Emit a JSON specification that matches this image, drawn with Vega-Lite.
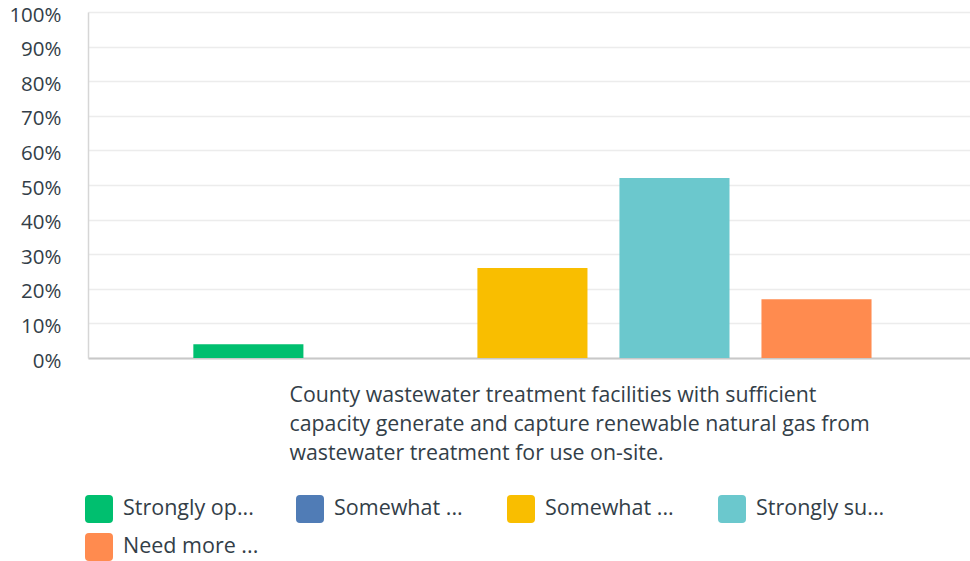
{
  "$schema": "https://vega.github.io/schema/vega-lite/v6.json",
  "autosize": "none",
  "width": 882,
  "height": 346,
  "padding": {"left": 88, "top": 12, "right": 0, "bottom": 203},
  "background": "white",
  "config": {
    "font": "Open Sans",
    "view": {"stroke": null}
  },
  "data": {
    "values": [
      {"question": "County wastewater treatment facilities with sufficient capacity generate and capture renewable natural gas from wastewater treatment for use on-site.", "answer": "Strongly oppose", "share": 0.04},
      {"question": "County wastewater treatment facilities with sufficient capacity generate and capture renewable natural gas from wastewater treatment for use on-site.", "answer": "Somewhat oppose", "share": 0.0},
      {"question": "County wastewater treatment facilities with sufficient capacity generate and capture renewable natural gas from wastewater treatment for use on-site.", "answer": "Somewhat support", "share": 0.26},
      {"question": "County wastewater treatment facilities with sufficient capacity generate and capture renewable natural gas from wastewater treatment for use on-site.", "answer": "Strongly support", "share": 0.52},
      {"question": "County wastewater treatment facilities with sufficient capacity generate and capture renewable natural gas from wastewater treatment for use on-site.", "answer": "Need more information", "share": 0.17}
    ]
  },
  "mark": {"type": "bar"},
  "encoding": {
    "x": {
      "field": "question",
      "type": "nominal",
      "scale": {"paddingInner": 0, "paddingOuter": 0.121, "align": 0.52},
      "axis": {
        "labels": false,
        "ticks": false,
        "domainColor": "#c8c8c8",
        "domainWidth": 2,
        "title": ["County wastewater treatment facilities with sufficient", "capacity generate and capture renewable natural gas from", "wastewater treatment for use on-site."],
        "titleAnchor": "start",
        "titleAlign": "left",
        "titleBaseline": "top",
        "titleX": 201,
        "titleY": 26,
        "titleFontSize": 21.3,
        "titleFontWeight": "normal",
        "titleLineHeight": 29,
        "titleColor": "#333e48",
        "titleLimit": 0
      }
    },
    "xOffset": {
      "field": "answer",
      "type": "nominal",
      "sort": ["Strongly oppose", "Somewhat oppose", "Somewhat support", "Strongly support", "Need more information"],
      "scale": {"paddingInner": 0.225, "paddingOuter": 0.1125}
    },
    "y": {
      "field": "share",
      "type": "quantitative",
      "scale": {"domain": [0, 1], "nice": false},
      "axis": {
        "title": null,
        "values": [0, 0.1, 0.2, 0.3, 0.4, 0.5, 0.6, 0.7, 0.8, 0.9, 1],
        "format": ".0%",
        "ticks": false,
        "domainColor": "#d6d6d6",
        "domainWidth": 1.5,
        "gridColor": "#ececec",
        "gridWidth": 1.5,
        "labelFontSize": 20.5,
        "labelColor": "#333e48",
        "labelPadding": 27,
        "labelBaseline": "middle",
        "labelOffset": 3
      }
    },
    "color": {
      "field": "answer",
      "type": "nominal",
      "sort": ["Strongly oppose", "Somewhat oppose", "Somewhat support", "Strongly support", "Need more information"],
      "scale": {
        "domain": ["Strongly oppose", "Somewhat oppose", "Somewhat support", "Strongly support", "Need more information"],
        "range": ["#00bf6f", "#507cb6", "#f9be00", "#6bc8cd", "#ff8b4f"]
      },
      "legend": {
        "title": null,
        "orient": "none",
        "legendX": -3,
        "legendY": 483,
        "direction": "horizontal",
        "columns": 4,
        "columnPadding": 37,
        "rowPadding": 10,
        "padding": 0,
        "gridAlign": "all",
        "symbolType": "M -0.72 -1 L 0.72 -1 Q 1 -1 1 -0.72 L 1 0.72 Q 1 1 0.72 1 L -0.72 1 Q -1 1 -1 0.72 L -1 -0.72 Q -1 -1 -0.72 -1 Z",
        "symbolSize": 784,
        "symbolStrokeWidth": 0,
        "symbolOpacity": 1,
        "labelFontSize": 21.5,
        "labelColor": "#333e48",
        "labelOffset": 10,
        "labelLimit": 200,
        "clipHeight": 28,
        "labelExpr": "datum.label == 'Strongly oppose' ? 'Strongly op...' : datum.label == 'Somewhat oppose' ? 'Somewhat ...' : datum.label == 'Somewhat support' ? 'Somewhat ...' : datum.label == 'Strongly support' ? 'Strongly su...' : 'Need more ...'",
        "values": ["Strongly oppose", "Somewhat oppose", "Somewhat support", "Strongly support", "Need more information"]
      }
    }
  }
}
